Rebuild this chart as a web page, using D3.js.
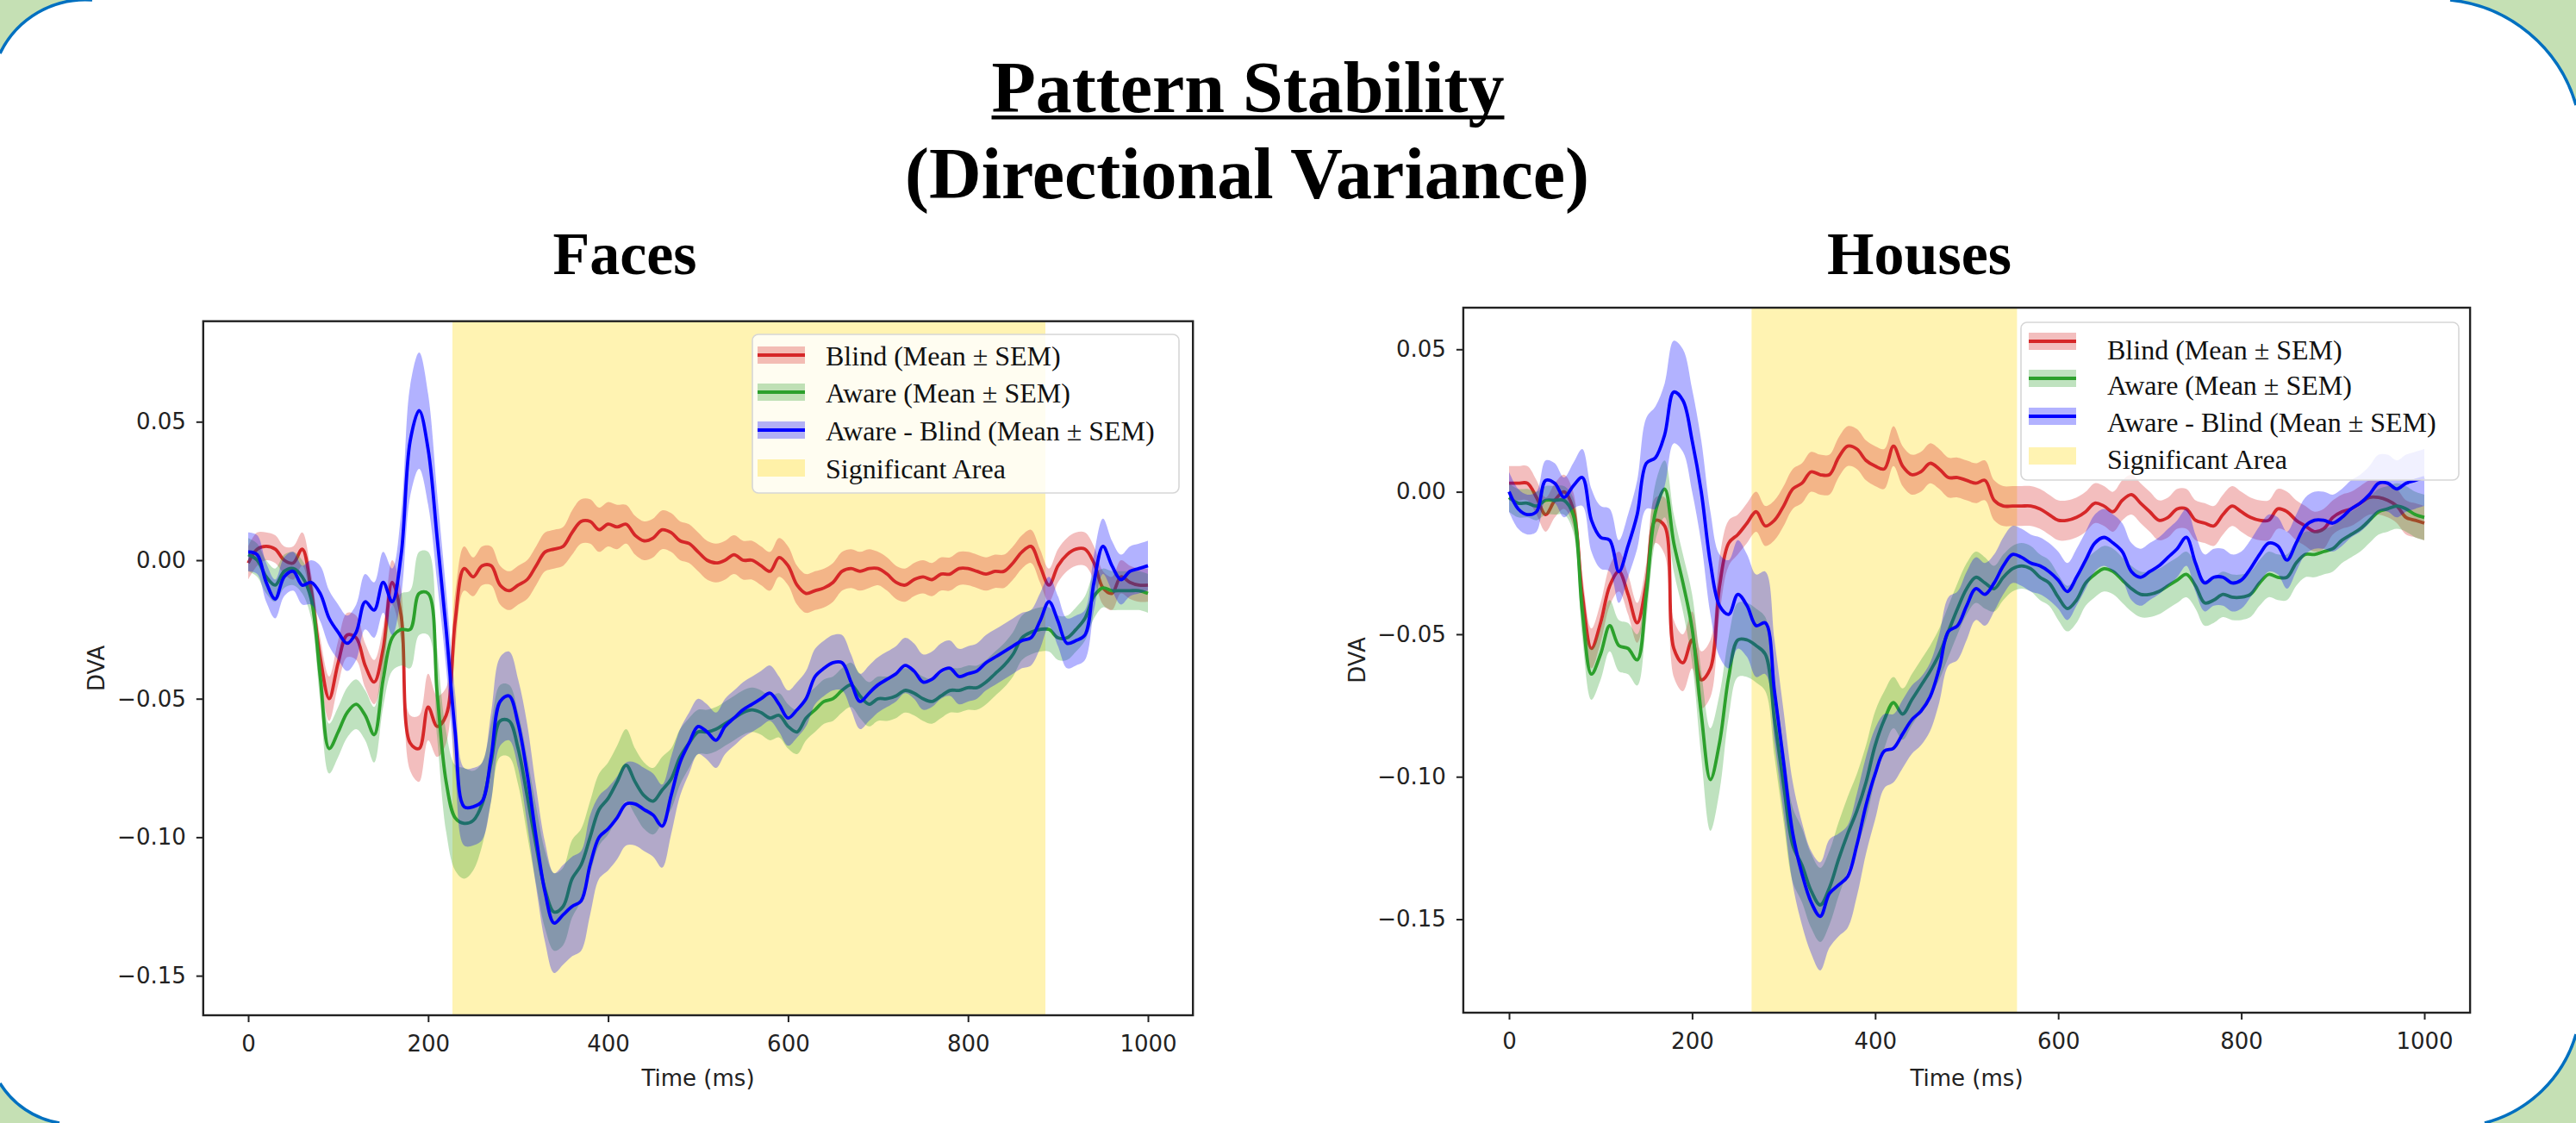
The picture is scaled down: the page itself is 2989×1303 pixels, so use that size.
<!DOCTYPE html>
<html><head><meta charset="utf-8">
<script src="https://cdn.jsdelivr.net/npm/d3@7"></script>
<style>html,body{margin:0;padding:0;background:#fff;} svg{display:block}</style>
</head><body><svg id="c" width="2989" height="1303"></svg>
<script>
// ---------------- DATA ----------------
const timeMs = d3.range(0, 1001, 10);
const xTicks = [0, 200, 400, 600, 800, 1000];
const yTicks = [-0.15, -0.10, -0.05, 0.00, 0.05];
const seriesLabels = ["Blind (Mean \u00B1 SEM)", "Aware (Mean \u00B1 SEM)", "Aware - Blind (Mean \u00B1 SEM)"];
const spanLabel = "Significant Area";
const panelTitles = ["Faces", "Houses"];
const mainTitle = "Pattern Stability";
const subTitle = "(Directional Variance)";
const xLabel = "Time (ms)";
const yLabel = "DVA";

const facesBlind = [
-0.001,0.004,0.005,0.004,0.000,-0.001,0.004,-0.011,-0.035,-0.050,
-0.037,-0.027,-0.028,-0.038,-0.044,-0.032,-0.008,-0.020,-0.066,-0.068,
-0.053,-0.060,-0.056,-0.022,-0.003,-0.006,-0.002,-0.002,-0.009,-0.011,
-0.009,-0.007,-0.002,0.003,0.004,0.005,0.010,0.014,0.014,0.011,
0.013,0.012,0.013,0.009,0.007,0.008,0.011,0.010,0.007,0.006,
0.003,0.000,-0.001,0.000,0.002,0.000,0.000,-0.002,-0.004,0.001,
-0.002,-0.009,-0.012,-0.011,-0.010,-0.008,-0.004,-0.003,-0.004,-0.003,
-0.003,-0.005,-0.008,-0.009,-0.007,-0.006,-0.007,-0.005,-0.005,-0.003,
-0.003,-0.004,-0.005,-0.004,-0.004,-0.001,0.003,0.005,-0.002,-0.009,
-0.002,0.002,0.004,0.004,-0.001,-0.010,-0.012,-0.006,-0.008,-0.009,
-0.009];
const facesAware = [
0.002,0.000,-0.006,-0.009,-0.004,-0.003,-0.006,-0.014,-0.042,-0.068,
-0.062,-0.055,-0.052,-0.056,-0.063,-0.043,-0.028,-0.025,-0.025,-0.012,
-0.012,-0.048,-0.080,-0.093,-0.095,-0.094,-0.088,-0.073,-0.058,-0.058,
-0.068,-0.085,-0.103,-0.119,-0.127,-0.125,-0.115,-0.110,-0.100,-0.090,
-0.086,-0.080,-0.074,-0.080,-0.085,-0.087,-0.083,-0.079,-0.071,-0.066,
-0.062,-0.062,-0.061,-0.059,-0.057,-0.055,-0.054,-0.055,-0.057,-0.056,
-0.060,-0.062,-0.057,-0.054,-0.051,-0.050,-0.047,-0.045,-0.049,-0.052,
-0.050,-0.050,-0.049,-0.047,-0.048,-0.050,-0.051,-0.049,-0.047,-0.047,
-0.046,-0.046,-0.044,-0.041,-0.038,-0.034,-0.028,-0.026,-0.025,-0.025,
-0.028,-0.028,-0.025,-0.021,-0.013,-0.010,-0.011,-0.011,-0.011,-0.011,
-0.012];
const facesDiff = [
0.003,0.002,-0.008,-0.014,-0.006,-0.004,-0.009,-0.008,-0.012,-0.021,
-0.026,-0.030,-0.026,-0.015,-0.018,-0.008,-0.015,0.002,0.043,0.054,
0.040,0.008,-0.025,-0.062,-0.089,-0.089,-0.087,-0.071,-0.051,-0.049,
-0.059,-0.077,-0.100,-0.120,-0.131,-0.128,-0.125,-0.123,-0.110,-0.100,
-0.097,-0.093,-0.088,-0.088,-0.090,-0.092,-0.096,-0.085,-0.073,-0.066,
-0.060,-0.062,-0.065,-0.060,-0.057,-0.054,-0.052,-0.050,-0.048,-0.052,
-0.057,-0.054,-0.050,-0.042,-0.039,-0.037,-0.037,-0.044,-0.051,-0.048,
-0.045,-0.043,-0.041,-0.038,-0.040,-0.044,-0.043,-0.040,-0.039,-0.042,
-0.041,-0.040,-0.037,-0.035,-0.033,-0.031,-0.029,-0.028,-0.022,-0.015,
-0.022,-0.030,-0.029,-0.027,-0.008,0.005,-0.002,-0.007,-0.004,-0.003,
-0.002];
const facesBlindSem = [
0.006,0.006,0.005,0.005,0.005,0.006,0.006,0.006,0.007,0.008,
0.008,0.008,0.008,0.008,0.008,0.008,0.008,0.009,0.010,0.012,
0.012,0.011,0.010,0.010,0.008,0.007,0.007,0.007,0.007,0.007,
0.007,0.007,0.007,0.007,0.007,0.007,0.008,0.008,0.008,0.008,
0.008,0.008,0.007,0.007,0.007,0.007,0.007,0.007,0.007,0.007,
0.007,0.007,0.007,0.007,0.007,0.007,0.007,0.007,0.007,0.007,
0.007,0.007,0.007,0.007,0.007,0.007,0.007,0.007,0.007,0.007,
0.006,0.006,0.006,0.006,0.006,0.006,0.006,0.006,0.006,0.006,
0.006,0.006,0.006,0.006,0.006,0.006,0.006,0.006,0.006,0.006,
0.006,0.006,0.006,0.006,0.006,0.006,0.006,0.006,0.006,0.006,
0.006];
const facesAwareSem = [
0.006,0.006,0.006,0.006,0.006,0.006,0.006,0.007,0.009,0.009,
0.009,0.009,0.009,0.009,0.010,0.010,0.012,0.013,0.014,0.015,
0.015,0.016,0.018,0.019,0.020,0.018,0.015,0.014,0.013,0.013,
0.013,0.014,0.014,0.014,0.014,0.014,0.014,0.013,0.013,0.013,
0.013,0.013,0.013,0.012,0.012,0.012,0.012,0.011,0.010,0.009,
0.008,0.008,0.008,0.008,0.008,0.008,0.008,0.008,0.008,0.008,
0.008,0.008,0.008,0.008,0.008,0.008,0.008,0.008,0.008,0.008,
0.008,0.008,0.008,0.008,0.008,0.008,0.008,0.008,0.008,0.008,
0.008,0.008,0.008,0.008,0.008,0.008,0.008,0.008,0.008,0.008,
0.008,0.008,0.008,0.008,0.008,0.007,0.007,0.007,0.007,0.007,
0.007];
const facesDiffSem = [
0.007,0.007,0.007,0.007,0.007,0.007,0.007,0.008,0.010,0.010,
0.010,0.010,0.010,0.010,0.010,0.011,0.012,0.015,0.020,0.021,
0.020,0.016,0.014,0.014,0.014,0.014,0.014,0.016,0.016,0.016,
0.016,0.018,0.018,0.018,0.018,0.018,0.018,0.018,0.018,0.015,
0.015,0.015,0.015,0.015,0.015,0.015,0.015,0.014,0.012,0.011,
0.010,0.010,0.010,0.010,0.010,0.010,0.010,0.010,0.010,0.010,
0.010,0.010,0.010,0.010,0.010,0.010,0.010,0.010,0.010,0.010,
0.010,0.010,0.010,0.010,0.010,0.010,0.010,0.010,0.010,0.010,
0.010,0.010,0.010,0.010,0.010,0.010,0.010,0.010,0.010,0.009,
0.009,0.009,0.009,0.009,0.010,0.010,0.009,0.009,0.009,0.009,
0.009];

const housesBlind = [
0.003,0.003,0.003,-0.002,-0.008,-0.003,0.000,-0.006,-0.036,-0.055,
-0.046,-0.033,-0.028,-0.036,-0.046,-0.032,-0.010,-0.012,-0.055,-0.060,
-0.052,-0.066,-0.062,-0.033,-0.018,-0.015,-0.011,-0.007,-0.012,-0.010,
-0.005,0.001,0.003,0.007,0.006,0.006,0.012,0.016,0.015,0.011,
0.009,0.008,0.016,0.009,0.006,0.007,0.010,0.008,0.005,0.005,
0.004,0.003,0.004,-0.003,-0.005,-0.005,-0.005,-0.005,-0.006,-0.008,
-0.010,-0.010,-0.009,-0.007,-0.004,-0.005,-0.007,-0.003,-0.001,-0.004,
-0.007,-0.010,-0.009,-0.006,-0.006,-0.010,-0.011,-0.012,-0.008,-0.005,
-0.007,-0.009,-0.010,-0.010,-0.006,-0.007,-0.010,-0.012,-0.014,-0.013,
-0.009,-0.007,-0.006,-0.004,-0.002,-0.002,-0.003,-0.005,-0.009,-0.010,
-0.011];
const housesAware = [
-0.002,-0.004,-0.004,-0.005,-0.003,-0.003,-0.003,-0.008,-0.042,-0.064,
-0.057,-0.047,-0.054,-0.055,-0.059,-0.036,-0.007,0.001,-0.018,-0.032,
-0.048,-0.078,-0.101,-0.088,-0.065,-0.052,-0.052,-0.054,-0.057,-0.080,
-0.103,-0.124,-0.131,-0.140,-0.145,-0.139,-0.129,-0.120,-0.112,-0.102,
-0.089,-0.080,-0.074,-0.078,-0.073,-0.068,-0.063,-0.057,-0.049,-0.041,
-0.034,-0.030,-0.032,-0.034,-0.030,-0.027,-0.026,-0.027,-0.030,-0.032,
-0.037,-0.041,-0.038,-0.032,-0.029,-0.027,-0.028,-0.031,-0.034,-0.036,
-0.036,-0.035,-0.033,-0.031,-0.029,-0.033,-0.039,-0.038,-0.036,-0.037,
-0.037,-0.036,-0.032,-0.029,-0.030,-0.030,-0.025,-0.022,-0.022,-0.021,
-0.020,-0.017,-0.015,-0.013,-0.010,-0.007,-0.006,-0.005,-0.006,-0.008,
-0.009];
const housesDiff = [
0.000,-0.006,-0.008,-0.007,0.004,0.003,-0.002,0.002,0.005,-0.010,
-0.016,-0.017,-0.028,-0.019,-0.008,0.010,0.012,0.020,0.035,0.032,
0.018,0.000,-0.025,-0.040,-0.043,-0.036,-0.040,-0.047,-0.046,-0.070,
-0.095,-0.120,-0.134,-0.144,-0.149,-0.141,-0.138,-0.135,-0.124,-0.110,
-0.099,-0.091,-0.090,-0.085,-0.080,-0.077,-0.072,-0.062,-0.049,-0.047,
-0.040,-0.034,-0.036,-0.032,-0.026,-0.022,-0.023,-0.025,-0.026,-0.028,
-0.031,-0.035,-0.030,-0.024,-0.018,-0.016,-0.018,-0.021,-0.028,-0.030,
-0.028,-0.026,-0.023,-0.020,-0.016,-0.025,-0.032,-0.030,-0.030,-0.032,
-0.031,-0.027,-0.022,-0.018,-0.019,-0.024,-0.018,-0.012,-0.010,-0.010,
-0.011,-0.009,-0.006,-0.004,-0.001,0.003,0.003,0.001,0.003,0.004,
0.005];
const housesBlindSem = [
0.006,0.006,0.006,0.006,0.006,0.006,0.006,0.006,0.007,0.007,
0.007,0.007,0.007,0.007,0.007,0.007,0.008,0.010,0.010,0.010,
0.010,0.010,0.010,0.010,0.008,0.007,0.007,0.007,0.007,0.007,
0.007,0.007,0.007,0.007,0.007,0.007,0.007,0.007,0.007,0.007,
0.007,0.007,0.007,0.007,0.007,0.007,0.007,0.007,0.007,0.007,
0.007,0.007,0.007,0.007,0.007,0.007,0.007,0.007,0.007,0.007,
0.007,0.007,0.007,0.007,0.007,0.007,0.007,0.007,0.007,0.007,
0.007,0.007,0.007,0.007,0.007,0.007,0.007,0.007,0.007,0.007,
0.007,0.007,0.007,0.007,0.007,0.007,0.007,0.007,0.007,0.007,
0.006,0.006,0.006,0.006,0.006,0.006,0.006,0.006,0.006,0.006,
0.006];
const housesAwareSem = [
0.005,0.005,0.005,0.005,0.005,0.005,0.005,0.006,0.009,0.009,
0.009,0.009,0.009,0.009,0.009,0.009,0.010,0.010,0.010,0.010,
0.012,0.015,0.018,0.017,0.014,0.013,0.013,0.013,0.013,0.013,
0.013,0.013,0.013,0.013,0.013,0.013,0.013,0.013,0.013,0.013,
0.012,0.010,0.009,0.009,0.009,0.009,0.009,0.009,0.009,0.009,
0.009,0.009,0.009,0.008,0.008,0.008,0.008,0.008,0.008,0.008,
0.008,0.008,0.008,0.008,0.008,0.008,0.008,0.008,0.008,0.008,
0.008,0.008,0.008,0.008,0.008,0.008,0.008,0.008,0.008,0.008,
0.008,0.008,0.008,0.008,0.008,0.008,0.008,0.008,0.008,0.008,
0.008,0.008,0.008,0.008,0.008,0.008,0.008,0.008,0.008,0.008,
0.008];
const housesDiffSem = [
0.007,0.007,0.007,0.007,0.007,0.007,0.007,0.008,0.010,0.011,
0.011,0.011,0.011,0.011,0.012,0.016,0.018,0.018,0.018,0.018,
0.018,0.018,0.018,0.018,0.019,0.019,0.018,0.018,0.018,0.018,
0.018,0.018,0.018,0.018,0.019,0.019,0.018,0.018,0.018,0.017,
0.016,0.013,0.012,0.012,0.012,0.012,0.012,0.012,0.012,0.012,
0.012,0.011,0.011,0.010,0.010,0.010,0.010,0.010,0.010,0.010,
0.010,0.010,0.010,0.010,0.010,0.010,0.010,0.010,0.010,0.010,
0.010,0.010,0.010,0.010,0.010,0.010,0.010,0.010,0.010,0.010,
0.010,0.010,0.010,0.010,0.010,0.010,0.010,0.010,0.010,0.010,
0.010,0.010,0.010,0.010,0.010,0.010,0.010,0.010,0.010,0.010,
0.010];

const facesSignificant = [227, 886];
const housesSignificant = [265, 555];

// ---------------- STYLE / LAYOUT ----------------
const colBlind = "#d62728", colAware = "#2ca02c", colDiff = "#0000ff", colSpan = "#ffd700";
const seriesColors = [colBlind, colAware, colDiff];
const tickFont = "'DejaVu Sans', sans-serif";
const serif = "'Liberation Serif', 'Times New Roman', serif";

const panels = [
  { title: panelTitles[0], titleX: 725, titleY: 318,
    xr: [235.8, 1384.2], yr: [1178, 372.7], yDomain: [-0.16428, 0.08628],
    means: [facesBlind, facesAware, facesDiff], sems: [facesBlindSem, facesAwareSem, facesDiffSem],
    span: facesSignificant,
    legend: { x: 873, y: 388, w: 495, h: 184, handleX: 879, handleRows: [412, 455, 499, 543], textX: 958, textRows: [424, 467, 511, 555] },
    yLabelX: 121 },
  { title: panelTitles[1], titleX: 2227, titleY: 318,
    xr: [1697.9, 2866.1], yr: [1175, 357], yDomain: [-0.1828, 0.0646],
    means: [housesBlind, housesAware, housesDiff], sems: [housesBlindSem, housesAwareSem, housesDiffSem],
    span: housesSignificant,
    legend: { x: 2345, y: 374, w: 508, h: 183, handleX: 2354, handleRows: [396, 439, 483, 529], textX: 2445, textRows: [417, 458, 501, 544] },
    yLabelX: 1584 }
];

const svg = d3.select("#c");
const W = 2989, H = 1303;

// ---------------- FRAME ----------------
svg.append("rect").attr("x", 0).attr("y", 0).attr("width", W).attr("height", H).attr("fill", "#c5e0b4");
const framePath = `M0,62 A110,110 0 0 1 107,0 L2843,0 A170,170 0 0 1 2989,122 L2989,1200 A150,150 0 0 1 2883,1303 L69,1303 A100,100 0 0 1 0,1257 Z`;
svg.append("path").attr("d", framePath).attr("fill", "#ffffff");
const arcs = ["M0,62 A110,110 0 0 1 107,0", "M2843,0 A170,170 0 0 1 2989,122",
              "M2989,1200 A150,150 0 0 1 2883,1303", "M69,1303 A100,100 0 0 1 0,1257"];
arcs.forEach(d => svg.append("path").attr("d", d).attr("fill", "none").attr("stroke", "#0070c0").attr("stroke-width", 3.5));

// ---------------- TITLES ----------------
const t1 = svg.append("text").attr("x", 1448).attr("y", 130).attr("text-anchor", "middle")
  .attr("font-family", serif).attr("font-weight", "bold").attr("font-size", 84).attr("fill", "#000").text(mainTitle);
const tw = t1.node().getComputedTextLength();
svg.append("rect").attr("x", 1448 - tw / 2).attr("y", 134).attr("width", tw).attr("height", 4.5).attr("fill", "#000");
svg.append("text").attr("x", 1447).attr("y", 230).attr("text-anchor", "middle")
  .attr("font-family", serif).attr("font-weight", "bold").attr("font-size", 84).attr("fill", "#000").text(subTitle);

// ---------------- PANELS ----------------
panels.forEach((p, pi) => {
  const x = d3.scaleLinear().domain([-50, 1050]).range(p.xr);
  const y = d3.scaleLinear().domain(p.yDomain).range(p.yr);
  const g = svg.append("g");

  svg.append("text").attr("x", p.titleX).attr("y", p.titleY).attr("text-anchor", "middle")
    .attr("font-family", serif).attr("font-weight", "bold").attr("font-size", 70).attr("fill", "#000").text(p.title);

  const clipId = "clip" + pi;
  svg.append("clipPath").attr("id", clipId).append("rect")
    .attr("x", p.xr[0]).attr("y", p.yr[1]).attr("width", p.xr[1] - p.xr[0]).attr("height", p.yr[0] - p.yr[1]);
  const plot = g.append("g").attr("clip-path", `url(#${clipId})`);

  // axes background
  plot.append("rect").attr("x", p.xr[0]).attr("y", p.yr[1]).attr("width", p.xr[1] - p.xr[0]).attr("height", p.yr[0] - p.yr[1]).attr("fill", "#fff");
  // significant area
  plot.append("rect").attr("x", x(p.span[0])).attr("width", x(p.span[1]) - x(p.span[0]))
    .attr("y", p.yr[1]).attr("height", p.yr[0] - p.yr[1]).attr("fill", colSpan).attr("fill-opacity", 0.3);

  const area = d3.area().x(d => x(d.t)).y0(d => y(d.v - d.s)).y1(d => y(d.v + d.s)).curve(d3.curveCatmullRom.alpha(0.5));
  const line = d3.line().x(d => x(d.t)).y(d => y(d.v)).curve(d3.curveCatmullRom.alpha(0.5));

  p.means.forEach((m, si) => {
    const pts = timeMs.map((t, i) => ({ t: t, v: m[i], s: p.sems[si][i] }));
    plot.append("path").attr("d", area(pts)).attr("fill", seriesColors[si]).attr("fill-opacity", 0.3).attr("stroke", "none");
    plot.append("path").attr("d", line(pts)).attr("fill", "none").attr("stroke", seriesColors[si]).attr("stroke-width", 3.8).attr("stroke-linejoin", "round");
  });

  // axes
  const xAxis = d3.axisBottom(x).tickValues(xTicks).tickFormat(d3.format("d")).tickSize(8).tickPadding(16);
  const yAxis = d3.axisLeft(y).tickValues(yTicks).tickFormat(d3.format(".2f")).tickSize(8).tickPadding(12);
  const gx = g.append("g").attr("transform", `translate(0,${p.yr[0]})`).call(xAxis);
  const gy = g.append("g").attr("transform", `translate(${p.xr[0]},0)`).call(yAxis);
  [gx, gy].forEach(a => {
    a.select(".domain").remove();
    a.selectAll(".tick line").attr("stroke", "#222").attr("stroke-width", 2);
    a.selectAll(".tick text").attr("font-family", tickFont).attr("font-size", 26).attr("fill", "#222");
  });
  // spines
  g.append("rect").attr("x", p.xr[0]).attr("y", p.yr[1]).attr("width", p.xr[1] - p.xr[0]).attr("height", p.yr[0] - p.yr[1])
    .attr("fill", "none").attr("stroke", "#222").attr("stroke-width", 2.4);

  // axis labels
  svg.append("text").attr("x", (p.xr[0] + p.xr[1]) / 2).attr("y", 1260).attr("text-anchor", "middle")
    .attr("font-family", tickFont).attr("font-size", 26).attr("fill", "#222").text(xLabel);
  svg.append("text").attr("transform", `translate(${p.yLabelX},${(p.yr[0] + p.yr[1]) / 2}) rotate(-90)`).attr("text-anchor", "middle")
    .attr("font-family", tickFont).attr("font-size", 26).attr("fill", "#222").text(yLabel);

  // legend
  const L = p.legend;
  const lg = svg.append("g");
  lg.append("rect").attr("x", L.x).attr("y", L.y).attr("width", L.w).attr("height", L.h).attr("rx", 7)
    .attr("fill", "#fff").attr("fill-opacity", 0.82).attr("stroke", "#d6d6d6").attr("stroke-width", 1.6);
  seriesLabels.forEach((lab, i) => {
    lg.append("rect").attr("x", L.handleX).attr("y", L.handleRows[i] - 10).attr("width", 55).attr("height", 20)
      .attr("fill", seriesColors[i]).attr("fill-opacity", 0.3);
    lg.append("line").attr("x1", L.handleX).attr("x2", L.handleX + 55).attr("y1", L.handleRows[i]).attr("y2", L.handleRows[i])
      .attr("stroke", seriesColors[i]).attr("stroke-width", 4);
    lg.append("text").attr("x", L.textX).attr("y", L.textRows[i]).attr("font-family", serif).attr("font-size", 32)
      .attr("fill", "#111").text(lab);
  });
  lg.append("rect").attr("x", L.handleX).attr("y", L.handleRows[3] - 10).attr("width", 55).attr("height", 20)
    .attr("fill", colSpan).attr("fill-opacity", 0.3);
  lg.append("text").attr("x", L.textX).attr("y", L.textRows[3]).attr("font-family", serif).attr("font-size", 32)
    .attr("fill", "#111").text(spanLabel);
});
</script>
</body></html>
